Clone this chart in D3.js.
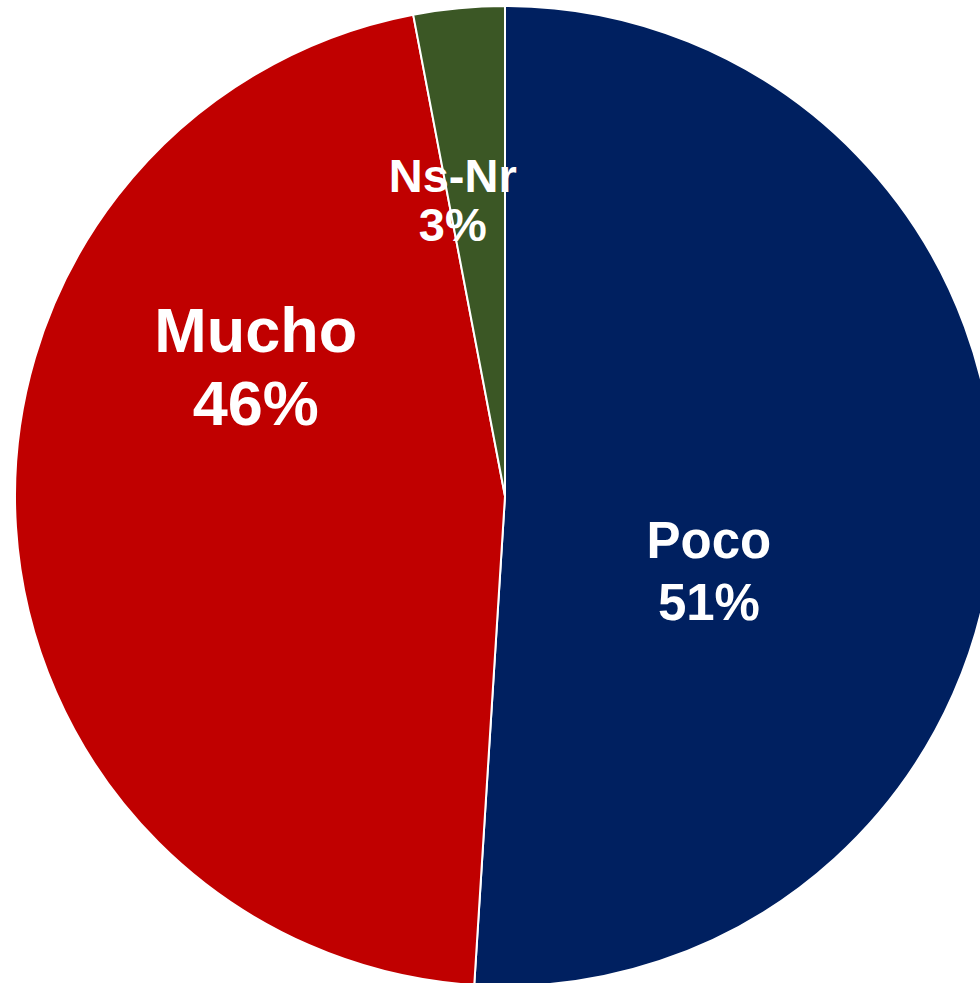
<!DOCTYPE html>
<html>
<head>
<meta charset="utf-8">
<script src="https://cdn.jsdelivr.net/npm/d3@7"></script>
<style>
html,body{margin:0;padding:0;background:#fff;}
svg{display:block;}
</style>
</head>
<body>
<svg id="chart" width="980" height="983"></svg>
<script>
const categories = ["Poco", "Mucho", "Ns-Nr"];
const values = [51, 46, 3];
const valueLabels = ["51%", "46%", "3%"];
const colors = ["#002060", "#C00000", "#3B5725"];

// layout (not data)
const cx = 505, cy = 496, R = 490;
const fontSizes = [51, 63, 47];
const lineGaps = [62, 73, 49];
// label anchor: angle (deg, clockwise from top) and radius
const labelPolar = [[110, 217], [297.5, 281], [350, 301]];

const svg = d3.select("#chart");
const g = svg.append("g").attr("transform", `translate(${cx},${cy})`);

const pie = d3.pie().sort(null).value(d => d.v);
const data = categories.map((c, i) => ({c, v: values[i], lab: valueLabels[i], col: colors[i], i}));
const arcs = pie(data);
const arc = d3.arc().innerRadius(0).outerRadius(R);

g.selectAll("path.slice").data(arcs).enter().append("path")
  .attr("class", "slice")
  .attr("d", arc)
  .attr("fill", d => d.data.col)
  .attr("stroke", "#fff")
  .attr("stroke-width", 2)
  .attr("stroke-linejoin", "round");

const labels = g.selectAll("g.lab").data(arcs).enter().append("g")
  .attr("class", "lab")
  .attr("transform", d => {
    const [a, r] = labelPolar[d.data.i];
    const rad = a * Math.PI / 180;
    return `translate(${r * Math.sin(rad)},${-r * Math.cos(rad)})`;
  });

labels.each(function(d) {
  const s = d3.select(this);
  const fs = fontSizes[d.data.i], gap = lineGaps[d.data.i];
  const t = s.append("text")
    .attr("text-anchor", "middle")
    .attr("fill", "#fff")
    .attr("font-family", "Liberation Sans, Arial, sans-serif")
    .attr("font-weight", "bold")
    .attr("font-size", fs);
  t.append("tspan").attr("x", 0).attr("y", -gap / 2 + fs * 0.36).text(d.data.c);
  t.append("tspan").attr("x", 0).attr("y", gap / 2 + fs * 0.36).text(d.data.lab);
});
</script>
</body>
</html>
